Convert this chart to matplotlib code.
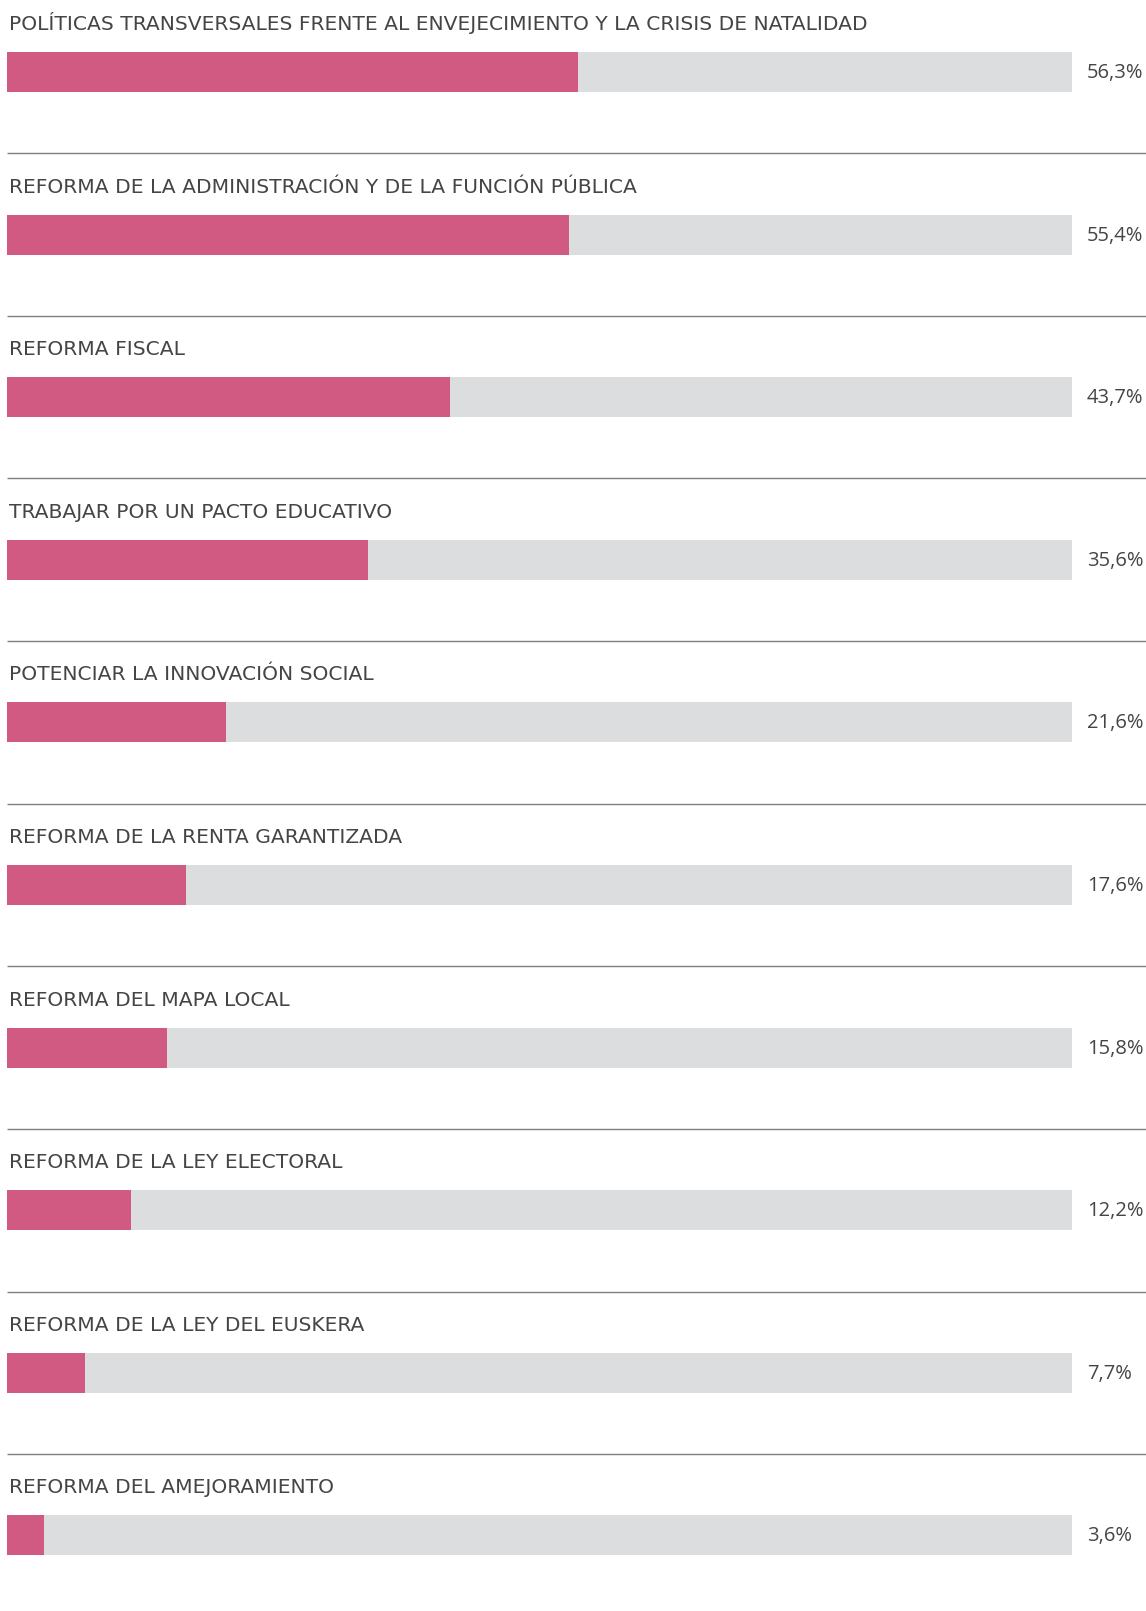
import matplotlib
matplotlib.use("Agg")
import matplotlib.pyplot as plt

categories = [
    "POLÍTICAS TRANSVERSALES FRENTE AL ENVEJECIMIENTO Y LA CRISIS DE NATALIDAD",
    "REFORMA DE LA ADMINISTRACIÓN Y DE LA FUNCIÓN PÚBLICA",
    "REFORMA FISCAL",
    "TRABAJAR POR UN PACTO EDUCATIVO",
    "POTENCIAR LA INNOVACIÓN SOCIAL",
    "REFORMA DE LA RENTA GARANTIZADA",
    "REFORMA DEL MAPA LOCAL",
    "REFORMA DE LA LEY ELECTORAL",
    "REFORMA DE LA LEY DEL EUSKERA",
    "REFORMA DEL AMEJORAMIENTO",
]
values = [56.3, 55.4, 43.7, 35.6, 21.6, 17.6, 15.8, 12.2, 7.7, 3.6]
labels = ["56,3%", "55,4%", "43,7%", "35,6%", "21,6%", "17,6%", "15,8%", "12,2%", "7,7%", "3,6%"]
track_max = 105

W, H = 1146, 1611
fig = plt.figure(figsize=(W / 100, H / 100), dpi=100)
fig.patch.set_facecolor("white")

left_px, right_px = 7, 1072
row_px = 162.6
first_center_px = 72
ax = fig.add_axes([left_px / W, 0, (right_px - left_px) / W, 1])
ax.set_xlim(0, track_max)
ax.set_ylim((H - first_center_px) / row_px, -first_center_px / row_px)
ax.axis("off")

bar_h = 40 / row_px
pink = "#D05A82"
grey = "#DCDDDF"
txt = "#454545"
title_font = ["DejaVu Sans"]
label_font = ["Open Sans", "DejaVu Sans"]
n = len(categories)
ys = list(range(n))

ax.barh(ys, [track_max] * n, height=bar_h, color=grey, left=0)
ax.barh(ys, values, height=bar_h, color=pink, left=0)

px_per_unit = (right_px - left_px) / track_max
for i, (cat, lab) in enumerate(zip(categories, labels)):
    ax.text(2 / px_per_unit, i - 42 / row_px, cat, ha="left", va="baseline",
            fontsize=14.6, color=txt, family=title_font, clip_on=False)
    ax.text(track_max + 15 / px_per_unit, i + 1 / row_px, lab, ha="left", va="center",
            fontsize=14.5, color=txt, family=label_font, clip_on=False)

sep_y = [i + 0.5 for i in range(n - 1)]
ax.hlines(sep_y, 0, (W - left_px) / px_per_unit, color="#7F7F7F", lw=1.0, clip_on=False)

fig.savefig("out.png", dpi=100, facecolor="white")
